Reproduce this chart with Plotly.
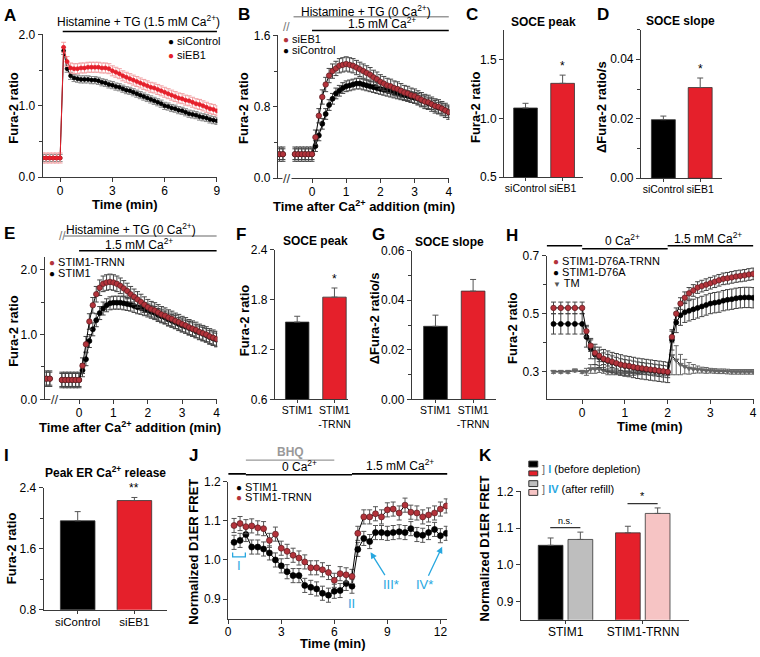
import plotly.graph_objects as go

W, H = 760, 657
FONT = "Liberation Sans, Arial, sans-serif"
RED = "#E5202B"
MAROON = "#B3333B"
GREY_BAR = "#BEBEBE"
PINK = "#F6C4C4"
CYAN = "#27A7DF"
AXC = "#3a3a3a"

# ---------------- data ----------------
# A: histamine + TG in 1.5 mM Ca2+
A_TIME = [-1.0, -0.8, -0.6, -0.4, -0.2, 0.0, 0.2, 0.4, 0.6, 0.8,
          1.0, 1.2, 1.4, 1.6, 1.8, 2.0, 2.2, 2.4, 2.6, 2.8,
          3.0, 3.2, 3.4, 3.6, 3.8, 4.0, 4.2, 4.4, 4.6, 4.8,
          5.0, 5.2, 5.4, 5.6, 5.8, 6.0, 6.2, 6.4, 6.6, 6.8,
          7.0, 7.2, 7.4, 7.6, 7.8, 8.0, 8.2, 8.4, 8.6, 8.8, 9.0]
A_SICONTROL = [0.27, 0.27, 0.27, 0.27, 0.27, 0.27, 1.77, 1.52, 1.42, 1.39,
               1.38, 1.37, 1.37, 1.37, 1.36, 1.36, 1.35, 1.33, 1.32, 1.30,
               1.29, 1.27, 1.26, 1.24, 1.22, 1.21, 1.19, 1.17, 1.15, 1.13,
               1.11, 1.09, 1.07, 1.05, 1.03, 1.00, 0.99, 0.97, 0.96, 0.94,
               0.93, 0.91, 0.89, 0.88, 0.87, 0.85, 0.84, 0.83, 0.81, 0.80, 0.79]
A_SIEB1 = [0.27, 0.27, 0.27, 0.27, 0.27, 0.27, 1.82, 1.62, 1.53, 1.52,
           1.52, 1.53, 1.53, 1.54, 1.54, 1.54, 1.54, 1.53, 1.53, 1.52,
           1.49, 1.47, 1.45, 1.42, 1.40, 1.38, 1.36, 1.34, 1.32, 1.30,
           1.28, 1.26, 1.25, 1.23, 1.21, 1.19, 1.17, 1.15, 1.13, 1.11,
           1.10, 1.08, 1.07, 1.05, 1.03, 1.02, 1.00, 0.98, 0.96, 0.95, 0.93]
A_ERR_CONTROL = 0.05
A_ERR_EB1 = 0.07

# B: Ca2+ add-back, siControl vs siEB1 (None = axis break)
B_TIME = [-0.95, -0.85, -0.7, -0.5, -0.4, -0.3, -0.2, -0.1, 0.0,
          0.1, 0.2, 0.3, 0.4, 0.5, 0.6, 0.7, 0.8, 0.9, 1.0,
          1.1, 1.2, 1.3, 1.4, 1.5, 1.6, 1.7, 1.8, 1.9, 2.0,
          2.1, 2.2, 2.3, 2.4, 2.5, 2.6, 2.7, 2.8, 2.9, 3.0,
          3.1, 3.2, 3.3, 3.4, 3.5, 3.6, 3.7, 3.8, 3.9, 4.0]
B_SICONTROL = [0.27, 0.27, None, 0.27, 0.27, 0.27, 0.27, 0.27, 0.27,
               0.36, 0.48, 0.61, 0.72, 0.82, 0.89, 0.95, 0.98, 1.01, 1.03,
               1.04, 1.05, 1.06, 1.06, 1.05, 1.04, 1.03, 1.02, 1.01, 1.00,
               0.99, 0.98, 0.97, 0.96, 0.95, 0.94, 0.93, 0.92, 0.91, 0.90,
               0.89, 0.87, 0.86, 0.84, 0.83, 0.81, 0.79, 0.78, 0.76, 0.74]
B_SIEB1 = [0.27, 0.27, None, 0.27, 0.27, 0.27, 0.27, 0.27, 0.27,
           0.46, 0.70, 0.91, 1.05, 1.15, 1.20, 1.23, 1.26, 1.27, 1.28,
           1.27, 1.26, 1.24, 1.22, 1.20, 1.18, 1.16, 1.13, 1.11, 1.08,
           1.06, 1.04, 1.03, 1.01, 1.00, 0.98, 0.96, 0.95, 0.93, 0.92,
           0.90, 0.88, 0.86, 0.85, 0.83, 0.81, 0.80, 0.78, 0.76, 0.74]
B_ERR_CONTROL = 0.06
B_ERR_EB1 = 0.08

# C / D: SOCE peak and slope
CD_CATS = ["siControl", "siEB1"]
C_PEAK = [1.09, 1.30]
C_PEAK_ERR = [0.04, 0.07]
D_SLOPE = [0.0197, 0.0305]
D_SLOPE_ERR = [0.0012, 0.0032]

# E: STIM1 vs STIM1-TRNN add-back
E_TIME = [-0.95, -0.85, -0.7, -0.5, -0.4, -0.3, -0.2, -0.1, 0.0,
          0.1, 0.2, 0.3, 0.4, 0.5, 0.6, 0.7, 0.8, 0.9, 1.0,
          1.1, 1.2, 1.3, 1.4, 1.5, 1.6, 1.7, 1.8, 1.9, 2.0,
          2.1, 2.2, 2.3, 2.4, 2.5, 2.6, 2.7, 2.8, 2.9, 3.0,
          3.1, 3.2, 3.3, 3.4, 3.5, 3.6, 3.7, 3.8, 3.9, 4.0]
E_STIM1 = [0.32, 0.32, None, 0.30, 0.30, 0.30, 0.30, 0.30, 0.30,
           0.45, 0.62, 0.90, 1.08, 1.22, 1.33, 1.40, 1.45, 1.48, 1.49,
           1.49, 1.49, 1.48, 1.47, 1.46, 1.44, 1.42, 1.41, 1.39, 1.37,
           1.35, 1.33, 1.30, 1.28, 1.26, 1.23, 1.21, 1.19, 1.16, 1.14,
           1.12, 1.10, 1.08, 1.05, 1.03, 1.01, 0.99, 0.96, 0.94, 0.92]
E_TRNN = [0.32, 0.32, None, 0.30, 0.30, 0.30, 0.30, 0.30, 0.30,
          0.52, 0.85, 1.20, 1.45, 1.62, 1.72, 1.78, 1.80, 1.81, 1.80,
          1.78, 1.75, 1.71, 1.67, 1.62, 1.58, 1.54, 1.50, 1.46, 1.42,
          1.39, 1.37, 1.34, 1.31, 1.29, 1.26, 1.24, 1.21, 1.19, 1.16,
          1.14, 1.11, 1.09, 1.07, 1.04, 1.02, 1.00, 0.97, 0.95, 0.93]
E_ERR_STIM1 = 0.10
E_ERR_TRNN = 0.12

# F / G
FG_CATS = ["STIM1", "STIM1<br>-TRNN"]
F_PEAK = [1.53, 1.83]
F_PEAK_ERR = [0.07, 0.11]
G_SLOPE = [0.0295, 0.0437]
G_SLOPE_ERR = [0.0045, 0.0047]

# H: D76A mutants
H_TIME = [-0.67, -0.5, -0.33, -0.17, 0.0,
          0.1, 0.2, 0.3, 0.4, 0.5, 0.6, 0.7, 0.8, 0.9, 1.0,
          1.1, 1.2, 1.3, 1.4, 1.5, 1.6, 1.7, 1.8, 1.9, 2.0,
          2.1, 2.2, 2.3, 2.4, 2.5, 2.6, 2.7, 2.8, 2.9, 3.0,
          3.1, 3.2, 3.3, 3.4, 3.5, 3.6, 3.7, 3.8, 3.9, 4.0]
H_D76A_TRNN = [0.52, 0.52, 0.52, 0.52, 0.52,
               0.44, 0.39, 0.365, 0.355, 0.345, 0.34, 0.335, 0.33, 0.325, 0.322,
               0.32, 0.317, 0.314, 0.312, 0.31, 0.308, 0.306, 0.304, 0.302, 0.30,
               0.42, 0.50, 0.535, 0.555, 0.57, 0.58, 0.59, 0.595, 0.60, 0.605,
               0.61, 0.615, 0.62, 0.622, 0.625, 0.628, 0.63, 0.632, 0.635, 0.637]
H_D76A = [0.465, 0.465, 0.465, 0.465, 0.465,
          0.42, 0.38, 0.36, 0.35, 0.342, 0.337, 0.332, 0.328, 0.324, 0.32,
          0.318, 0.315, 0.312, 0.31, 0.308, 0.306, 0.304, 0.302, 0.30, 0.298,
          0.41, 0.47, 0.495, 0.505, 0.51, 0.515, 0.52, 0.525, 0.53, 0.535,
          0.538, 0.54, 0.545, 0.548, 0.55, 0.553, 0.555, 0.556, 0.556, 0.555]
H_TM = [0.30, 0.30, 0.30, 0.305, 0.30,
        0.30, 0.31, 0.31, 0.31, 0.305, 0.30, 0.30, 0.298, 0.296, 0.295,
        0.295, 0.296, 0.298, 0.30, 0.30, 0.30, 0.298, 0.297, 0.296, 0.295,
        0.355, 0.34, 0.325, 0.318, 0.312, 0.31, 0.308, 0.306, 0.305, 0.304,
        0.303, 0.302, 0.302, 0.301, 0.30, 0.30, 0.30, 0.30, 0.30, 0.30]
H_TM_ERR = [0.005, 0.005, 0.005, 0.005, 0.005,
            0.012, 0.015, 0.015, 0.012, 0.01, 0.01, 0.01, 0.008, 0.008, 0.008,
            0.008, 0.008, 0.008, 0.008, 0.008, 0.008, 0.008, 0.008, 0.008, 0.008,
            0.065, 0.05, 0.035, 0.025, 0.02, 0.015, 0.012, 0.01, 0.01, 0.008,
            0.008, 0.008, 0.008, 0.008, 0.008, 0.008, 0.008, 0.008, 0.008, 0.008]
H_ERR_TRNN = 0.02
H_ERR_D76A = 0.035

# I
I_CATS = ["siControl", "siEB1"]
I_PEAK = [1.965, 2.23]
I_PEAK_ERR = [0.12, 0.04]

# J: D1ER FRET time course
J_TIME = [0.33, 0.67, 1.0, 1.33, 1.67, 2.0, 2.33, 2.67, 3.0, 3.33,
          3.67, 4.0, 4.33, 4.67, 5.0, 5.33, 5.67, 6.0, 6.33, 6.67,
          7.0, 7.33, 7.67, 8.0, 8.33, 8.67, 9.0, 9.33, 9.67, 10.0,
          10.33, 10.67, 11.0, 11.33, 11.67, 12.0, 12.33]
J_STIM1 = [1.045, 1.05, 1.065, 1.033, 1.033, 1.028, 1.018, 1.0, 0.985, 0.97,
           0.96, 0.96, 0.935, 0.93, 0.926, 0.915, 0.91, 0.92, 0.922, 0.94,
           0.933, 1.027, 1.055, 1.047, 1.07, 1.07, 1.068, 1.07, 1.072, 1.07,
           1.08, 1.065, 1.063, 1.07, 1.078, 1.062, 1.068]
J_TRNN = [1.088, 1.093, 1.085, 1.087, 1.082, 1.08, 1.05, 1.066, 1.03, 1.022,
          1.012, 1.005, 0.995, 0.98, 0.98, 0.975, 0.968, 0.948, 0.965, 0.962,
          0.958, 1.068, 1.11, 1.11, 1.118, 1.11, 1.128, 1.13, 1.12, 1.14,
          1.122, 1.12, 1.11, 1.115, 1.12, 1.13, 1.138]
J_ERR = 0.018

# K: before depletion (I) vs after refill (IV)
K_CATS = ["STIM1", "STIM1-TRNN"]
K_BEFORE = [1.053, 1.087]
K_BEFORE_ERR = [0.02, 0.018]
K_AFTER = [1.069, 1.14]
K_AFTER_ERR = [0.02, 0.015]


# ---------------- helpers ----------------
def xdom(l, r):
    return [l / W, r / W]


def ydom(t, b):
    return [1 - b / H, 1 - t / H]


def py(p):
    return 1 - p / H


def axis(**kw):
    base = dict(showline=True, linecolor=AXC, linewidth=1, ticks="outside", ticklen=4,
                tickcolor=AXC, tickwidth=1, showgrid=False, zeroline=False,
                tickfont=dict(family=FONT, size=12, color="black"), fixedrange=True)
    base.update(kw)
    return base


def minor(d):
    return dict(ticks="outside", ticklen=2.5, tickcolor=AXC, dtick=d)


axes = {}


def add_axes(n, xpx, ypx, xkw, ykw):
    s = "" if n == 1 else str(n)
    xkw.setdefault("ticklabelstandoff", -2)
    axes["xaxis" + s] = axis(domain=xdom(*xpx), anchor="y" + s, **xkw)
    axes["yaxis" + s] = axis(domain=ydom(*ypx), anchor="x" + s, **ykw)


anns = []
shapes = []


def txt(s, x, y, size=12, bold=False, color="black", angle=0, xanchor="center"):
    if bold:
        s = "<b>" + s + "</b>"
    anns.append(dict(text=s, x=x / W, y=py(y), xref="paper", yref="paper", showarrow=False,
                     font=dict(size=size, color=color, family=FONT), textangle=angle,
                     xanchor=xanchor, yanchor="middle"))


def dtxt(s, xref, x, y, size=12, bold=False, color="black"):
    if bold:
        s = "<b>" + s + "</b>"
    anns.append(dict(text=s, x=x, y=py(y), xref=xref, yref="paper", showarrow=False,
                     font=dict(size=size, color=color, family=FONT), xanchor="center", yanchor="middle"))


def hline(xref, x0, x1, ypx, color="black", width=1.6):
    shapes.append(dict(type="line", xref=xref, yref="paper", x0=x0, x1=x1, y0=py(ypx), y1=py(ypx),
                       line=dict(color=color, width=width)))


def legend_item(glyph_color, label, x, y, glyph="●", gsize=10):
    s = '<span style="color:%s;font-size:%dpx">%s</span> %s' % (glyph_color, gsize, glyph, label)
    txt(s, x, y, size=11, xanchor="left")


def brk(xref, x, y):
    anns.append(dict(text="//", x=x, y=py(y), xref=xref, yref="paper", showarrow=False,
                     font=dict(size=13, color="#333", family=FONT), bgcolor="white", borderpad=0,
                     xanchor="center", yanchor="middle"))


traces = []


def series(x, y, err, n, fill, size, err_color, edge=None, line_color="black", symbol="circle",
           err_array=None):
    s = "" if n == 1 else str(n)
    ey = dict(type="constant", value=err, color=err_color, thickness=1, width=2.5)
    if err_array is not None:
        ey = dict(type="data", array=err_array, color=err_color, thickness=1, width=2.5)
    traces.append(go.Scatter(x=x, y=y, xaxis="x" + s, yaxis="y" + s, mode="lines+markers",
                             line=dict(color=line_color, width=1), connectgaps=False,
                             marker=dict(size=size, color=fill, symbol=symbol,
                                         line=dict(color=edge or fill, width=0.7)),
                             error_y=ey, hoverinfo="skip"))


def bars(cats, vals, errs, n, colors, width, offset=None):
    s = "" if n == 1 else str(n)
    kw = dict(width=width)
    if offset is not None:
        kw["offset"] = offset
    traces.append(go.Bar(x=cats, y=vals, xaxis="x" + s, yaxis="y" + s,
                         marker=dict(color=colors, line=dict(color="#333", width=0.8)),
                         error_y=dict(type="data", array=errs, arrayminus=[0] * len(errs),
                                      symmetric=False, color="#555", thickness=1, width=3),
                         hoverinfo="skip", **kw))


cat_font = dict(family=FONT, size=10.5, color="black")


def cat_axis(rng, **kw):
    d = dict(type="category", range=rng, tickfont=cat_font, ticklen=3, tickangle=0)
    d.update(kw)
    return d


# ---------------- A ----------------
add_axes(1, (40, 216), (28, 174),
         dict(range=[-1, 9.02], tickvals=[0, 3, 6, 9]),
         dict(range=[0, 2], tickvals=[0, 1, 2], tickformat=".1f", minor=minor(0.5)))
series(A_TIME, A_SICONTROL, A_ERR_CONTROL, 1, "black", 4, "#8a8a8a")
series(A_TIME, A_SIEB1, A_ERR_EB1, 1, RED, 4, "#F2A0A3", line_color=RED)
txt("Histamine + TG (1.5 mM Ca<sup>2+</sup>)", 137, 14, size=12)
hline("x", 0.15, 9.0, 25)
legend_item("black", "siControl", 164, 35)
legend_item(RED, "siEB1", 164, 49)
txt("Time (min)", 123, 202, size=13, bold=True)
txt("Fura-2 ratio", 11, 103, size=13, bold=True, angle=-90)

# ---------------- B ----------------
add_axes(2, (277, 450), (29, 175),
         dict(range=[-1, 4.02], tickvals=[0, 1, 2, 3, 4]),
         dict(range=[0, 1.6], tickvals=[0, 0.8, 1.6], tickformat=".1f", minor=minor(0.4)))
series(B_TIME, B_SICONTROL, B_ERR_CONTROL, 2, "black", 5, "#444")
series(B_TIME, B_SIEB1, B_ERR_EB1, 2, MAROON, 5.5, "#444", edge="#5a1a1e")
brk("x2", -0.72, 175)
anns.append(dict(text="//", x=286 / W, y=py(11), xref="paper", yref="paper", showarrow=False,
                 font=dict(size=12, color="#777", family=FONT)))
txt("Histamine + TG (0 Ca<sup>2+</sup>)", 366, 4, size=12)
hline("x2", -0.54, 4.0, 10, color="#999", width=1.4)
txt("1.5 mM Ca<sup>2+</sup>", 382, 16, size=12)
hline("x2", 0.0, 4.0, 24)
legend_item(MAROON, "siEB1", 280, 33)
legend_item("black", "siControl", 280, 44)
txt("Time after Ca<sup>2+</sup> addition (min)", 364, 203, size=13, bold=True)
txt("Fura-2 ratio", 243, 103, size=13, bold=True, angle=-90)

# ---------------- C ----------------
add_axes(3, (505, 585), (24, 174),
         cat_axis([-0.58, 1.56]),
         dict(range=[0.5, 1.75], tickvals=[0.5, 1.0, 1.5], tickformat=".1f"))
bars(CD_CATS, C_PEAK, C_PEAK_ERR, 3, ["black", RED], 0.64)
anns.append(dict(text="*", x="siEB1", y=C_PEAK[1] + C_PEAK_ERR[1], xref="x3", yref="y3",
                 showarrow=False, yanchor="bottom", font=dict(size=12, family=FONT)))
txt("SOCE peak", 545, 15, size=12, bold=True)
txt("Fura-2 ratio", 477, 102, size=13, bold=True, angle=-90)

# ---------------- D ----------------
add_axes(4, (643, 725), (23, 175),
         cat_axis([-0.61, 1.6]),
         dict(range=[0, 0.05], tickvals=[0, 0.02, 0.04], tickformat=".2f", minor=minor(0.01)))
bars(CD_CATS, D_SLOPE, D_SLOPE_ERR, 4, ["black", RED], 0.65)
anns.append(dict(text="*", x="siEB1", y=D_SLOPE[1] + D_SLOPE_ERR[1], xref="x4", yref="y4",
                 showarrow=False, yanchor="bottom", font=dict(size=12, family=FONT)))
txt("SOCE slope", 683, 14, size=12, bold=True)
txt("ΔFura-2 ratio/s", 604, 102, size=13, bold=True, angle=-90)

# ---------------- E ----------------
add_axes(5, (42, 216), (255, 401),
         dict(range=[-1, 4.02], tickvals=[0, 1, 2, 3, 4]),
         dict(range=[0, 2.2], tickvals=[0, 1, 2], tickformat=".1f", minor=minor(0.5)))
series(E_TIME, E_STIM1, E_ERR_STIM1, 5, "black", 5, "#444")
series(E_TIME, E_TRNN, E_ERR_TRNN, 5, MAROON, 5.5, "#444", edge="#5a1a1e")
brk("x5", -0.7, 401)
anns.append(dict(text="//", x=54 / W, y=py(234), xref="paper", yref="paper", showarrow=False,
                 font=dict(size=12, color="#777", family=FONT)))
txt("Histamine + TG (0 Ca<sup>2+</sup>)", 129, 227, size=12)
hline("x5", -0.43, 4.0, 234, color="#999", width=1.4)
txt("1.5 mM Ca<sup>2+</sup>", 137, 242, size=12)
hline("x5", 0.0, 4.0, 249)
legend_item(MAROON, "STIM1-TRNN", 44, 261)
legend_item("black", "STIM1", 44, 272)
txt("Time after Ca<sup>2+</sup> addition (min)", 128, 429, size=13, bold=True)
txt("Fura-2 ratio", 11, 331, size=13, bold=True, angle=-90)

# ---------------- F ----------------
add_axes(6, (274, 348), (248, 401),
         cat_axis([-0.6, 1.37]),
         dict(range=[0.6, 2.4], tickvals=[0.6, 1.2, 1.8, 2.4], tickformat=".1f"))
bars(FG_CATS, F_PEAK, F_PEAK_ERR, 6, ["black", RED], 0.63)
anns.append(dict(text="*", x=FG_CATS[1], y=F_PEAK[1] + F_PEAK_ERR[1], xref="x6", yref="y6",
                 showarrow=False, yanchor="bottom", font=dict(size=12, family=FONT)))
txt("SOCE peak", 315, 239, size=12, bold=True)
txt("Fura-2 ratio", 243, 320, size=13, bold=True, angle=-90)

# ---------------- G ----------------
add_axes(7, (412, 497), (249, 401),
         cat_axis([-0.63, 1.61]),
         dict(range=[0, 0.06], tickvals=[0, 0.02, 0.04, 0.06], tickformat=".2f", minor=minor(0.01)))
bars(FG_CATS, G_SLOPE, G_SLOPE_ERR, 7, ["black", RED], 0.63)
txt("SOCE slope", 450, 240, size=12, bold=True)
txt("ΔFura-2 ratio/s", 374, 318, size=13, bold=True, angle=-90)

# ---------------- H ----------------
add_axes(8, (548, 757), (254, 401),
         dict(range=[-0.83, 4.02], tickvals=[0, 1, 2, 3, 4]),
         dict(range=[0.205, 0.7], tickvals=[0.3, 0.5, 0.7], tickformat=".1f", minor=minor(0.1)))
series(H_TIME, H_TM, 0, 8, "#666", 5, "#666", symbol="triangle-down", err_array=H_TM_ERR)
series(H_TIME, H_D76A, H_ERR_D76A, 8, "black", 5, "#444")
series(H_TIME, H_D76A_TRNN, H_ERR_TRNN, 8, MAROON, 5.5, "#444", edge="#5a1a1e")
hline("x8", -0.83, 0.0, 244)
hline("x8", 0.0, 2.0, 247)
hline("x8", 2.0, 4.0, 244)
dtxt("0 Ca<sup>2+</sup>", "x8", 0.95, 238, size=12)
dtxt("1.5 mM Ca<sup>2+</sup>", "x8", 2.95, 236, size=12)
legend_item(MAROON, "STIM1-D76A-TRNN", 552, 260)
legend_item("black", "STIM1-D76A", 552, 271)
legend_item("#555", "TM", 552, 282, glyph="▼", gsize=8)
txt("Time (min)", 652, 429, size=13, bold=True)
txt("Fura-2 ratio", 513, 328, size=13, bold=True, angle=-90)

# ---------------- I ----------------
add_axes(9, (41, 165), (491, 616),
         cat_axis([-0.6, 1.57], tickfont=dict(family=FONT, size=11.5, color="black")),
         dict(range=[0.8, 2.4], tickvals=[0.8, 1.6, 2.4], tickformat=".1f", minor=minor(0.4)))
bars(I_CATS, I_PEAK, I_PEAK_ERR, 9, ["black", RED], 0.61)
anns.append(dict(text="**", x="siEB1", y=I_PEAK[1] + I_PEAK_ERR[1], xref="x9", yref="y9",
                 showarrow=False, yanchor="bottom", font=dict(size=12, family=FONT)))
txt("Peak ER Ca<sup>2+</sup> release", 103, 475, size=12, bold=True)
txt("Fura-2 ratio", 8, 553, size=13, bold=True, angle=-90)

# ---------------- J ----------------
add_axes(10, (227, 448), (485, 625),
         dict(range=[0, 12.4], tickvals=[0, 3, 6, 9, 12]),
         dict(range=[0.85, 1.2], tickvals=[0.9, 1.0, 1.1, 1.2], tickformat=".1f"))
series(J_TIME, J_STIM1, J_ERR, 10, "black", 6, "#555")
series(J_TIME, J_TRNN, J_ERR, 10, MAROON, 6, "#555", edge="#5a1a1e")
hline("x10", 0.0, 1.0, 477)
hline("x10", 1.0, 6.0, 463, color="#999", width=1.4)
hline("x10", 1.0, 7.0, 478)
hline("x10", 7.0, 12.4, 477)
dtxt("BHQ", "x10", 3.5, 455, size=12, bold=True, color="#999")
dtxt("0 Ca<sup>2+</sup>", "x10", 4.05, 469, size=12)
dtxt("1.5 mM Ca<sup>2+</sup>", "x10", 9.7, 468, size=12)
legend_item("black", "STIM1", 233, 490)
legend_item(MAROON, "STIM1-TRNN", 233, 501)
shapes.append(dict(type="path", xref="x10", yref="y10", path="M 0.25 1.019 L 0.25 1.008 L 0.97 1.008 L 0.97 1.019",
                   line=dict(color=CYAN, width=1.3)))
anns.append(dict(text="I", x=0.62, y=0.985, xref="x10", yref="y10", showarrow=False,
                 font=dict(size=13, color=CYAN, family=FONT)))
anns.append(dict(text="II", x=7.0, y=0.888, xref="x10", yref="y10", showarrow=False,
                 font=dict(size=13, color=CYAN, family=FONT)))
anns.append(dict(text="III*", x=8.05, y=1.02, xref="x10", yref="y10", showarrow=True,
                 arrowhead=2, arrowsize=1, arrowwidth=1.3, arrowcolor=CYAN, ax=20, ay=32,
                 font=dict(size=13, color=CYAN, family=FONT)))
anns.append(dict(text="IV*", x=12.1, y=1.034, xref="x10", yref="y10", showarrow=True,
                 arrowhead=2, arrowsize=1, arrowwidth=1.3, arrowcolor=CYAN, ax=-18, ay=38,
                 font=dict(size=13, color=CYAN, family=FONT)))
txt("Time (min)", 333, 650, size=13, bold=True)
txt("Normalized D1ER FRET", 192, 556, size=13, bold=True, angle=-90)

# ---------------- K ----------------
add_axes(11, (522, 691), (495, 626),
         cat_axis([-0.58, 1.59], tickfont=dict(family=FONT, size=12, color="black")),
         dict(range=[0.85, 1.2], tickvals=[0.9, 1.0, 1.1, 1.2], tickformat=".1f"))
bars(K_CATS, K_BEFORE, K_BEFORE_ERR, 11, ["black", RED], 0.32, offset=-0.355)
bars(K_CATS, K_AFTER, K_AFTER_ERR, 11, [GREY_BAR, PINK], 0.32, offset=0.03)
for i, lab in enumerate(["n.s.", "*"]):
    top = max(K_BEFORE[i] + K_BEFORE_ERR[i], K_AFTER[i] + K_AFTER_ERR[i]) + 0.012
    shapes.append(dict(type="line", xref="x11", yref="y11", x0=i - 0.2, x1=i + 0.19, y0=top, y1=top,
                       line=dict(color="#333", width=1.2)))
    anns.append(dict(text=lab, x=i, y=top, xref="x11", yref="y11", showarrow=False, yanchor="bottom",
                     font=dict(size=11 if lab == "*" else 9, family=FONT, color="black")))
for (y0, y1, col) in [(464, 470, "black"), (474, 479, RED), (484, 490, GREY_BAR), (493, 499, PINK)]:
    shapes.append(dict(type="rect", xref="paper", yref="paper", x0=530 / W, x1=539 / W,
                       y0=py(y1), y1=py(y0), fillcolor=col, line=dict(color="#333", width=1)))
txt('<span style="color:#666">]</span> <b><span style="color:%s">I</span></b> (before depletion)' % CYAN,
    541, 472, size=11, xanchor="left")
txt('<span style="color:#666">]</span> <b><span style="color:%s">IV</span></b> (after refill)' % CYAN,
    541, 492, size=11, xanchor="left")
txt("Normalized D1ER FRET", 485, 553, size=13, bold=True, angle=-90)

# panel letters
for letter, x, y in [("A", 7, 9), ("B", 243, 8), ("C", 473, 8), ("D", 605, 8), ("E", 7, 231),
                     ("F", 240, 232), ("G", 378, 232), ("H", 513, 233), ("I", 4, 458),
                     ("J", 192, 458), ("K", 486, 458)]:
    txt(letter, x, y, size=17, bold=True)

fig = go.Figure(data=traces)
fig.update_layout(width=W, height=H, margin=dict(l=0, r=0, t=0, b=0),
                  paper_bgcolor="white", plot_bgcolor="white", showlegend=False,
                  barmode="overlay", font=dict(family=FONT, size=12, color="black"),
                  annotations=anns, shapes=shapes, **axes)
# the page's default body margin would push the 760x657 figure off by 8 px
fig.write_html("out.html", config={"displayModeBar": False},
               post_script="document.body.style.margin='0';document.body.style.overflow='hidden';")
